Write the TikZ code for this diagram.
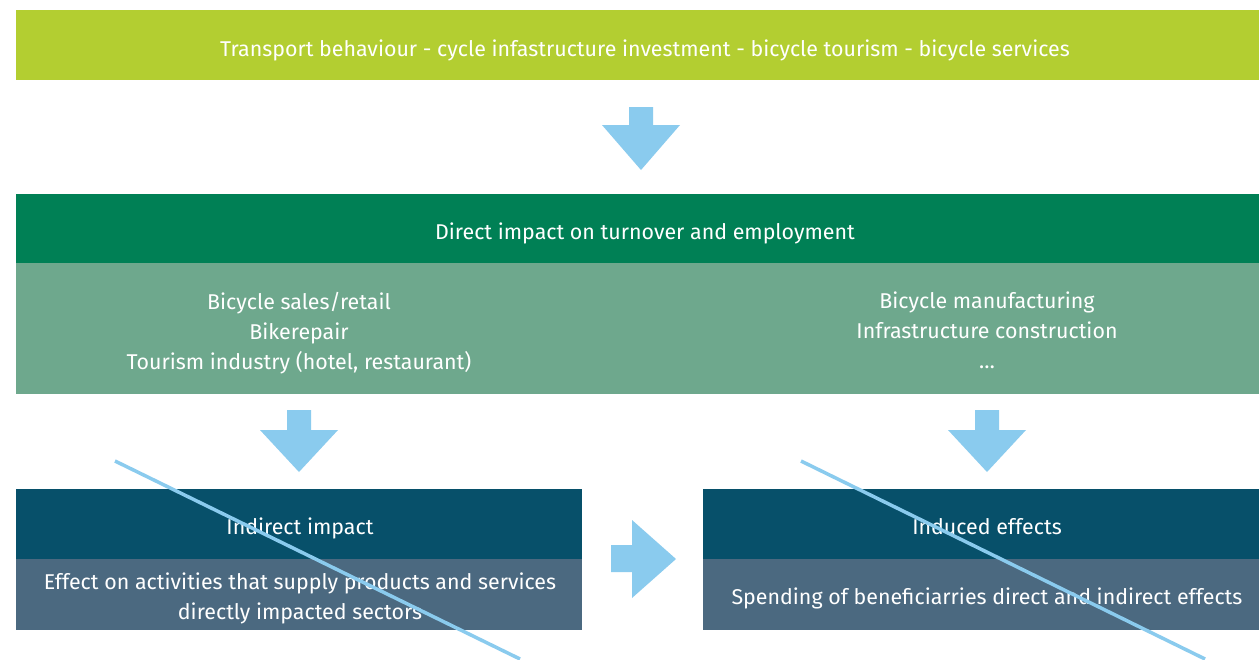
\documentclass[tikz,border=0pt]{standalone}
\usepackage{fontspec}
\setmainfont{Fira Sans}
\definecolor{lime}{HTML}{B3CE31}
\definecolor{dgreen}{HTML}{008055}
\definecolor{sage}{HTML}{6EA88D}
\definecolor{dteal}{HTML}{07506A}
\definecolor{slate}{HTML}{4B6980}
\definecolor{sky}{HTML}{8ACBEE}
\begin{document}
\begin{tikzpicture}[x=1pt,y=-1pt,
  band/.style={rectangle, inner sep=0pt, outer sep=0pt, anchor=north west, draw=none},
  lbl/.style={text=white, font=\fontsize{21.4}{30}\selectfont, align=center, inner sep=0pt},
  blockarrow/.style={fill=sky, draw=none},
  diag/.style={draw=sky, line width=3.5pt}]
\useasboundingbox[fill=white] (0,0) rectangle (1259,659);
% bands
\node[band, fill=lime, minimum width=1243pt, minimum height=70pt] (top) at (16,10) {};
\node[band, fill=dgreen, minimum width=1243pt, minimum height=69pt] (direct) at (16,194) {};
\node[band, fill=sage, minimum width=1243pt, minimum height=131pt] (detail) at (16,263) {};
\node[band, fill=dteal, minimum width=566pt, minimum height=70pt] (indhead) at (16,489) {};
\node[band, fill=slate, minimum width=566pt, minimum height=71pt] (indbody) at (16,559) {};
\node[band, fill=dteal, minimum width=556pt, minimum height=70pt] (inuhead) at (703,489) {};
\node[band, fill=slate, minimum width=556pt, minimum height=71pt] (inubody) at (703,559) {};
% texts
\node[lbl] (toptxt) at (645,50) {Transport behaviour - cycle infastructure investment - bicycle tourism - bicycle services};
\node[lbl] (directtxt) at (645,233) {Direct impact on turnover and employment};
\node[lbl] (lefttxt) at (299,333) {Bicycle sales/retail\\Bikerepair\\Tourism industry (hotel, restaurant)};
\node[lbl] (righttxt) at (987,330) {Bicycle manufacturing\\Infrastructure construction\\\dots};
\node[lbl] (indtxt) at (300,528) {Indirect impact};
\node[lbl] (indbtxt) at (300,598) {Effect on activities that supply products and services\\directly impacted sectors};
\node[lbl] (inutxt) at (987,527) {Induced effects};
\node[lbl] (inubtxt) at (987,598) {Spending of beneficiarries direct and indirect effects};
% block arrows
\path[blockarrow] (629,107) -- (653,107) -- (653,125) -- (680,125) -- (641,170) -- (602,125) -- (629,125) -- cycle;
\path[blockarrow] (287,410) -- (311,410) -- (311,430) -- (338,430) -- (299,472) -- (260,430) -- (287,430) -- cycle;
\path[blockarrow] (975,410) -- (999,410) -- (999,430) -- (1026,430) -- (987,472) -- (948,430) -- (975,430) -- cycle;
\path[blockarrow] (611,545) -- (632,545) -- (632,520) -- (676,559) -- (632,598) -- (632,572) -- (611,572) -- cycle;
% diagonal strokes
\coordinate (d1a) at (115,461);
\coordinate (d1b) at (520,659);
\coordinate (d2a) at (801,461);
\coordinate (d2b) at (1205,659);
\draw[diag] (d1a) -- (d1b);
\draw[diag] (d2a) -- (d2b);
\end{tikzpicture}
\end{document}
